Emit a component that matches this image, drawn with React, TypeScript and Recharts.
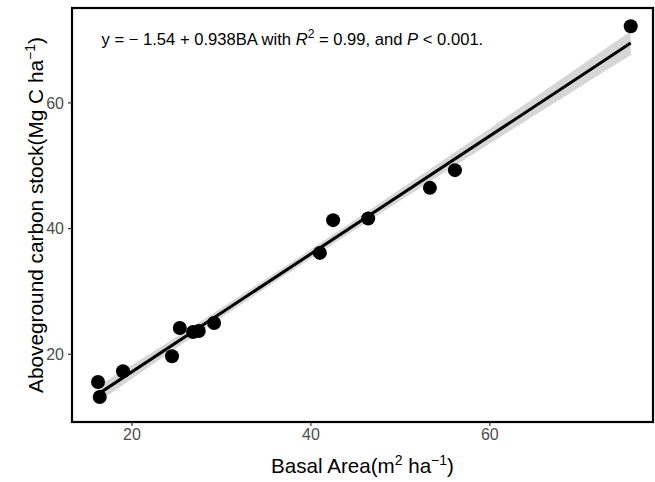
import React from 'react';
import { ComposedChart, XAxis, YAxis, Scatter, Line, Area, ReferenceArea } from 'recharts';

// Observed plots: basal area (m² ha⁻¹) vs aboveground carbon stock (Mg C ha⁻¹)
const basalArea = [16.2, 16.39, 18.99, 24.47, 25.34, 26.82, 27.46, 29.17, 41.0, 42.48, 46.4, 53.3, 56.1, 75.75];
const carbonStock = [15.59, 13.2, 17.29, 19.68, 24.19, 23.55, 23.71, 24.98, 36.13, 41.34, 41.6, 46.48, 49.3, 72.2];

// Fitted linear model y = a + b·BA
const intercept = -1.54;
const slope = 0.938;

// 95% confidence band of the fit
const bandX = [16.2, 22, 28, 35.7, 44, 52, 60, 68, 75.75];
const bandLower = [12.36, 18.1, 23.92, 31.25, 38.98, 46.29, 53.54, 60.69, 67.61];
const bandUpper = [14.96, 20.1, 25.52, 32.65, 40.48, 48.19, 55.94, 63.79, 71.41];

const xTicks = [20, 40, 60];
const yTicks = [20, 40, 60];
const xDomain: [number, number] = [13.29, 78.24];
const yDomain: [number, number] = [9.22, 75.1];

const points = basalArea.map((x, i) => ({ x, y: carbonStock[i] }));
const xMin = Math.min(...basalArea);
const xMax = Math.max(...basalArea);
const fitLine = [xMin, xMax].map((x) => ({ x, fit: intercept + slope * x }));
const band = bandX.map((x, i) => ({ x, band: [bandLower[i], bandUpper[i]] }));

const FONT = '"Liberation Sans", Arial, Helvetica, sans-serif';

const Dot = (props: any) => {
  const { cx, cy } = props;
  if (cx == null || cy == null) return null;
  return <circle cx={cx} cy={cy} r={7} fill="#000" />;
};

// Panel border plus the model annotation
const PanelFrame = (props: any) => {
  const { x, y, width, height } = props;
  return (
    <g>
      <rect x={x} y={y} width={width} height={height} fill="none" stroke="#000" strokeWidth={2.2} />
      <text x={x + 29.5} y={y + 37} fontFamily={FONT} fontSize={16.6} fill="#000">
        {'y = \u2212 1.54 + 0.938BA with '}
        <tspan fontStyle="italic">R</tspan>
        <tspan dy={-7} fontSize={12}>2</tspan>
        <tspan dy={7}>{' = 0.99, and '}</tspan>
        <tspan fontStyle="italic">P</tspan>
        <tspan>{' < 0.001.'}</tspan>
      </text>
    </g>
  );
};

const XTitle = (props: any) => {
  const vb = props.viewBox || {};
  const cx = vb.x + vb.width / 2;
  const cy = vb.y + 51;
  return (
    <text x={cx} y={cy} textAnchor="middle" fontFamily={FONT} fontSize={20.6} fill="#000">
      {'Basal Area(m'}
      <tspan dy={-8} fontSize={14}>2</tspan>
      <tspan dy={8}>{' ha'}</tspan>
      <tspan dy={-8} fontSize={14}>{'\u22121'}</tspan>
      <tspan dy={8}>)</tspan>
    </text>
  );
};

const YTitle = (props: any) => {
  const vb = props.viewBox || {};
  const cx = 43;
  const cy = vb.y + vb.height / 2;
  return (
    <text
      x={cx}
      y={cy}
      textAnchor="middle"
      transform={`rotate(-90 ${cx} ${cy})`}
      fontFamily={FONT}
      fontSize={20.8}
      fill="#000"
    >
      {'Aboveground carbon stock(Mg C ha'}
      <tspan dy={-8} fontSize={14}>{'\u22121'}</tspan>
      <tspan dy={8}>)</tspan>
    </text>
  );
};

export default function App() {
  return (
    <div style={{ position: 'absolute', left: 0, top: 0, background: '#fff' }}>
      <ComposedChart width={655} height={482} margin={{ top: 8, right: 2, bottom: 0, left: 0 }}>
        <XAxis
          type="number"
          dataKey="x"
          domain={xDomain}
          ticks={xTicks}
          allowDataOverflow
          axisLine={false}
          tickLine={{ stroke: '#333', strokeWidth: 1.2 }}
          tickSize={4}
          tickMargin={3}
          height={60}
          tick={{ fill: '#4d4d4d', fontSize: 16, fontFamily: FONT }}
          label={<XTitle />}
        />
        <YAxis
          type="number"
          dataKey="y"
          domain={yDomain}
          ticks={yTicks}
          allowDataOverflow
          axisLine={false}
          tickLine={{ stroke: '#333', strokeWidth: 1.2 }}
          tickSize={4}
          tickMargin={4}
          width={72}
          tick={{ fill: '#4d4d4d', fontSize: 16, fontFamily: FONT }}
          label={<YTitle />}
        />
        <Scatter data={points} dataKey="y" shape={<Dot />} isAnimationActive={false} />
        <Area
          data={band}
          dataKey="band"
          type="linear"
          stroke="none"
          fill="#999999"
          fillOpacity={0.4}
          isAnimationActive={false}
          activeDot={false}
        />
        <Line
          data={fitLine}
          dataKey="fit"
          type="linear"
          stroke="#000"
          strokeWidth={3}
          dot={false}
          activeDot={false}
          isAnimationActive={false}
        />
        <ReferenceArea
          x1={xDomain[0]}
          x2={xDomain[1]}
          y1={yDomain[0]}
          y2={yDomain[1]}
          shape={<PanelFrame />}
        />
      </ComposedChart>
    </div>
  );
}
